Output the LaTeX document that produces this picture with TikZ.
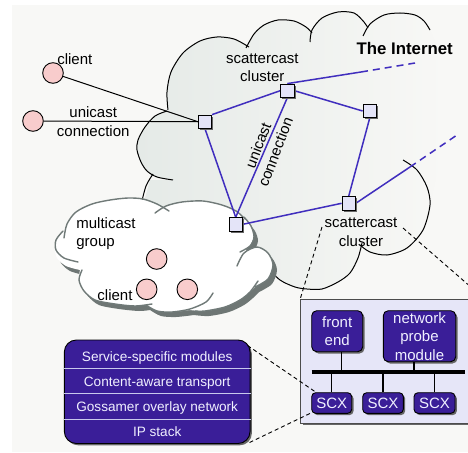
\documentclass[tikz,border=0pt]{standalone}
\usepackage{fontspec}
\setmainfont{Liberation Sans}
\usetikzlibrary{shadows}
\pgfdeclarelayer{bg}
\pgfdeclarelayer{edges}
\pgfsetlayers{bg,edges,main}
\definecolor{bgc}{RGB}{248,248,246}
\definecolor{cloudL}{RGB}{229,234,231}
\definecolor{netblue}{RGB}{64,46,190}
\definecolor{sqfill}{RGB}{228,228,248}
\definecolor{indigo}{RGB}{58,30,152}
\definecolor{pinkc}{RGB}{248,204,204}
\definecolor{boxfill}{RGB}{230,230,248}
\definecolor{mcgray}{RGB}{112,122,120}
\definecolor{mcshadow}{RGB}{110,118,116}
\definecolor{lighttext}{RGB}{240,240,255}
\definecolor{sepc}{RGB}{200,200,236}
\newcommand{\mcpath}{plot[smooth] coordinates {(80,270) (66,266) (57,258) (55,248) (58,238) (64,230)}
 -- plot[smooth] coordinates {(64,230) (70,218) (80,209) (95,203) (110,200) (125,198) (140,199) (157,204) (166,209)}
 -- plot[smooth] coordinates {(166,207) (182,202) (203,201) (222,205) (236,211) (244,218)}
 -- plot[smooth] coordinates {(244,218) (251,226) (254,236) (250,246) (246,249)}
 -- plot[smooth] coordinates {(246,251) (257,247) (268,253) (273,265) (268,279) (255,287)}
 -- plot[smooth] coordinates {(255,287) (249,293) (240,300) (225,307) (205,311) (190,310)}
 -- plot[smooth] coordinates {(190,310) (172,312) (157,311) (146,305)}
 -- plot[smooth] coordinates {(146,305) (135,306) (115,304) (95,300) (84,291) (79,280) (80,270)} -- cycle}
\begin{document}
\begin{tikzpicture}[x=1pt,y=-1pt,
  lbl/.style={font=\fontsize{15}{18.5}\selectfont, inner sep=0pt, align=center, text=black},
  shd/.style={drop shadow={shadow xshift=1.8pt, shadow yshift=-1.8pt, opacity=1, fill=black!60}},
  sq/.style={draw=black, fill=sqfill, minimum size=13.3pt, inner sep=0pt, line width=0.9pt, shd},
  clientc/.style={circle, draw=black, fill=pinkc, minimum size=20.6pt, inner sep=0pt, line width=0.9pt},
  net/.style={draw=netblue, line width=1.5pt},
  netdash/.style={draw=netblue, line width=1.5pt, dash pattern=on 7pt off 5pt},
  uni/.style={draw=black, line width=1pt},
  cloudline/.style={draw=black, line width=1pt},
  mcline/.style={draw=mcgray, line width=1.4pt, line cap=round},
  darkbox/.style={draw=black, fill=indigo, text=lighttext, rounded corners=5pt, line width=0.9pt,
     font=\fontsize{15}{18.5}\selectfont, align=center, inner sep=0pt, shd},
  dashcall/.style={draw=black, line width=0.9pt, dash pattern=on 4pt off 3pt},
  stem/.style={draw=black, line width=1.2pt},
  layertxt/.style={font=\fontsize{13.6}{16}\selectfont, text=lighttext, inner sep=0pt, anchor=base}
]
\useasboundingbox (0,0) rectangle (468,452);

\begin{pgfonlayer}{bg}
\fill[bgc] (11.5,5) rectangle (468,452);
% big Internet cloud
\shade[left color=cloudL, right color=bgc]
 plot[smooth] coordinates {(173,180) (157,177) (147,171) (141,162) (137,150) (138,140) (145,127) (155,116) (167,111)}
 -- plot[smooth] coordinates {(168,110) (167,92) (171,72) (183,53) (200,41) (217,37) (234,39) (249,47)}
 -- plot[smooth] coordinates {(248,46) (254,34) (264,25) (278,20) (294,21) (306,27) (312,33)}
 -- plot[smooth] coordinates {(312,33) (322,18) (338,12) (354,13) (364,22) (367,30)}
 -- plot[smooth] coordinates {(367,30) (376,20) (386,15) (400,13) (415,15) (424,21) (430,30)}
 -- (442,60) -- (446,130) -- (430,205)
 -- plot[smooth] coordinates {(430,205) (423,230) (407,248) (387,255) (370,252) (360,245)}
 -- plot[smooth] coordinates {(361,243) (358,258) (350,273) (338,282) (322,289) (307,289) (295,287) (280,280) (267,267)}
 -- (240,235) -- (143,205) -- (150,180) -- cycle;
\draw[cloudline] plot[smooth] coordinates {(167,111) (155,116) (145,127) (138,140) (137,150) (141,162) (147,171) (157,177) (173,180)};
\draw[cloudline] plot[smooth] coordinates {(168,110) (167,92) (171,72) (183,53) (200,41) (217,37) (234,39) (249,47)};
\draw[cloudline] plot[smooth] coordinates {(246,48) (254,34) (264,25) (278,20) (294,21) (306,27) (312,33)};
\draw[cloudline] plot[smooth] coordinates {(310,42) (312,30) (322,18) (338,12) (354,13) (364,22) (368,28)};
\draw[cloudline] plot[smooth] coordinates {(363,36) (370,24) (384,15) (400,13) (415,15) (424,21) (430,30)};
\draw[cloudline] plot[smooth] coordinates {(141,205) (146,186) (153,174)};
\draw[cloudline] plot[smooth] coordinates {(262,262) (267,267) (280,280) (295,287) (307,289) (322,289) (338,282) (350,273) (358,258) (362,243)};
\draw[cloudline] plot[smooth] coordinates {(360,245) (370,252) (387,255) (407,248) (423,230) (430,205) (427,187) (417,170) (403,160)};
% multicast cloud
\fill[mcshadow, shift={(4,5)}] \mcpath;
\fill[white] \mcpath;
\draw[mcline] plot[smooth] coordinates {(78,262) (64,258) (56,250) (56,240) (63,231)};
\draw[mcline] plot[smooth] coordinates {(64,238) (67,224) (76,212) (92,204) (110,200) (128,198) (143,199) (157,204) (169,211)};
\draw[mcline] plot[smooth] coordinates {(155,213) (166,206) (182,202) (203,201) (222,205) (236,211) (245,219)};
\draw[mcline] plot[smooth] coordinates {(244,217) (251,226) (254,237) (250,246) (240,252)};
\draw[mcline] plot[smooth] coordinates {(237,266) (244,253) (257,247) (268,253) (273,265) (268,279) (255,287)};
\draw[mcline] plot[smooth] coordinates {(258,281) (250,292) (240,300) (225,307) (205,311) (195,311)};
\draw[mcline] plot[smooth] coordinates {(213,293) (206,302) (190,309) (172,312) (157,311) (146,305)};
\draw[mcline] plot[smooth] coordinates {(152,304) (135,306) (115,304) (95,300) (84,291) (79,280) (82,270)};
\end{pgfonlayer}

% clients
\node[clientc] (c1) at (53,73) {};
\node[clientc] (c2) at (33,121) {};
\node[clientc] (m1) at (156.7,259) {};
\node[clientc] (m2) at (146.7,289.3) {};
\node[clientc] (m3) at (187.3,289.3) {};

% scattercast nodes
\node[sq] (sqA) at (205,121.7) {};
\node[sq] (sqB) at (287.3,90.7) {};
\node[sq] (sqC) at (369.7,111) {};
\node[sq] (sqD) at (348.7,203.3) {};
\node[sq] (sqE) at (235.7,224.3) {};

\coordinate (bx1) at (361,72);
\coordinate (bx2) at (415,63);
\coordinate (dx1) at (410,167);
\coordinate (dx2) at (457,135);

\begin{pgfonlayer}{edges}
\draw[uni] (c1) -- (sqA.west);
\draw[uni] (c2) -- (sqA.west);
\draw[net] (sqA.north east) -- (sqB.west);
\draw[net] (sqA.south) -- (sqE.north);
\draw[net] (sqB.south) -- (sqE.north);
\draw[net] (sqB.east) -- (sqC.west);
\draw[net] (sqC.south) -- (sqD.north);
\draw[net] (sqD.west) -- (sqE.east);
\draw[net] (sqB.north) -- (bx1);
\draw[netdash] (bx1) -- (bx2);
\draw[net] (sqD.east) -- (dx1);
\draw[netdash] (dx1) -- (dx2);
\end{pgfonlayer}

% labels
\node[lbl, anchor=base] (tclient) at (74.8,64.3) {client};
\node[lbl] (tuni) at (93.2,121.4) {unicast\\connection};
\node[lbl] (tsc1) at (262.3,67.9) {scattercast\\cluster};
\node[lbl, anchor=base, font=\fontsize{16.8}{20}\selectfont\bfseries] (tnet) at (404.7,55) {The Internet};
\node[lbl, rotate=69] (tuni2) at (266.7,148.7) {unicast\\connection};
\node[lbl] (tsc2) at (361,232) {scattercast\\cluster};
\node[lbl, align=left, anchor=west] (tmg) at (76.2,233.4) {multicast\\group};
\node[lbl, anchor=base] (tclient2) at (115,300) {client};

% protocol stack
\node[draw=black, fill=indigo, rounded corners=12pt, line width=0.9pt, minimum width=185.7pt,
      minimum height=103.5pt, inner sep=0pt, shd] (stack) at (157.2,391.75) {};
\draw[sepc, line width=1pt] (stack.west |- 0,368.3) -- (stack.east |- 0,368.3);
\draw[sepc, line width=1pt] (stack.west |- 0,393.7) -- (stack.east |- 0,393.7);
\draw[sepc, line width=1pt] (stack.west |- 0,419.3) -- (stack.east |- 0,419.3);
\node[layertxt] (l1) at (157.2,361.7) {Service-specific modules};
\node[layertxt] (l2) at (157.2,386.7) {Content-aware transport};
\node[layertxt] (l3) at (157.2,411.7) {Gossamer overlay network};
\node[layertxt] (l4) at (157.2,436.7) {IP stack};

% cluster detail box
\node[draw=black!70, fill=boxfill, line width=0.9pt, minimum width=183.3pt, minimum height=124pt,
      inner sep=0pt, shd] (clusterbox) at (392.35,361.3) {};
\node[darkbox, minimum width=51pt, minimum height=41pt] (fe) at (337.2,331.2) {front\\end};
\node[darkbox, minimum width=72.4pt, minimum height=51pt] (probe) at (419.5,336.2) {network\\probe\\module};
\coordinate (bus1) at (311.7,372);
\coordinate (bus2) at (465,372);
\node[darkbox, rounded corners=4pt, minimum width=40pt, minimum height=20.6pt] (scx1) at (331.7,403) {SCX};
\node[darkbox, rounded corners=4pt, minimum width=40.6pt, minimum height=20.6pt] (scx2) at (383,403) {SCX};
\node[darkbox, rounded corners=4pt, minimum width=41pt, minimum height=20.6pt] (scx3) at (434.5,403) {SCX};
\draw[stem] ([xshift=4.5pt]fe.south) -- ([xshift=4.5pt]fe.south |- bus1);
\draw[stem] ([xshift=-5.5pt]probe.south) -- ([xshift=-5.5pt]probe.south |- bus1);
\draw[stem] (scx1.north) -- (scx1.north |- bus1);
\draw[stem] (scx2.north) -- (scx2.north |- bus1);
\draw[stem] (scx3.north) -- (scx3.north |- bus1);
\draw[black, line width=4pt] (bus1) -- (bus2);

% callout lines
\coordinate (stkNE) at (247.5,345.5);
\coordinate (stkSE) at (249.5,442.5);
\coordinate (clA) at (322,227);
\coordinate (clB) at (403,228);
\draw[dashcall] (stkNE) -- (scx1);
\draw[dashcall] (stkSE) -- (scx1);
\draw[dashcall] (clA) -- (clusterbox.north west);
\draw[dashcall] (clB) -- (clusterbox.north east);
\end{tikzpicture}
\end{document}
